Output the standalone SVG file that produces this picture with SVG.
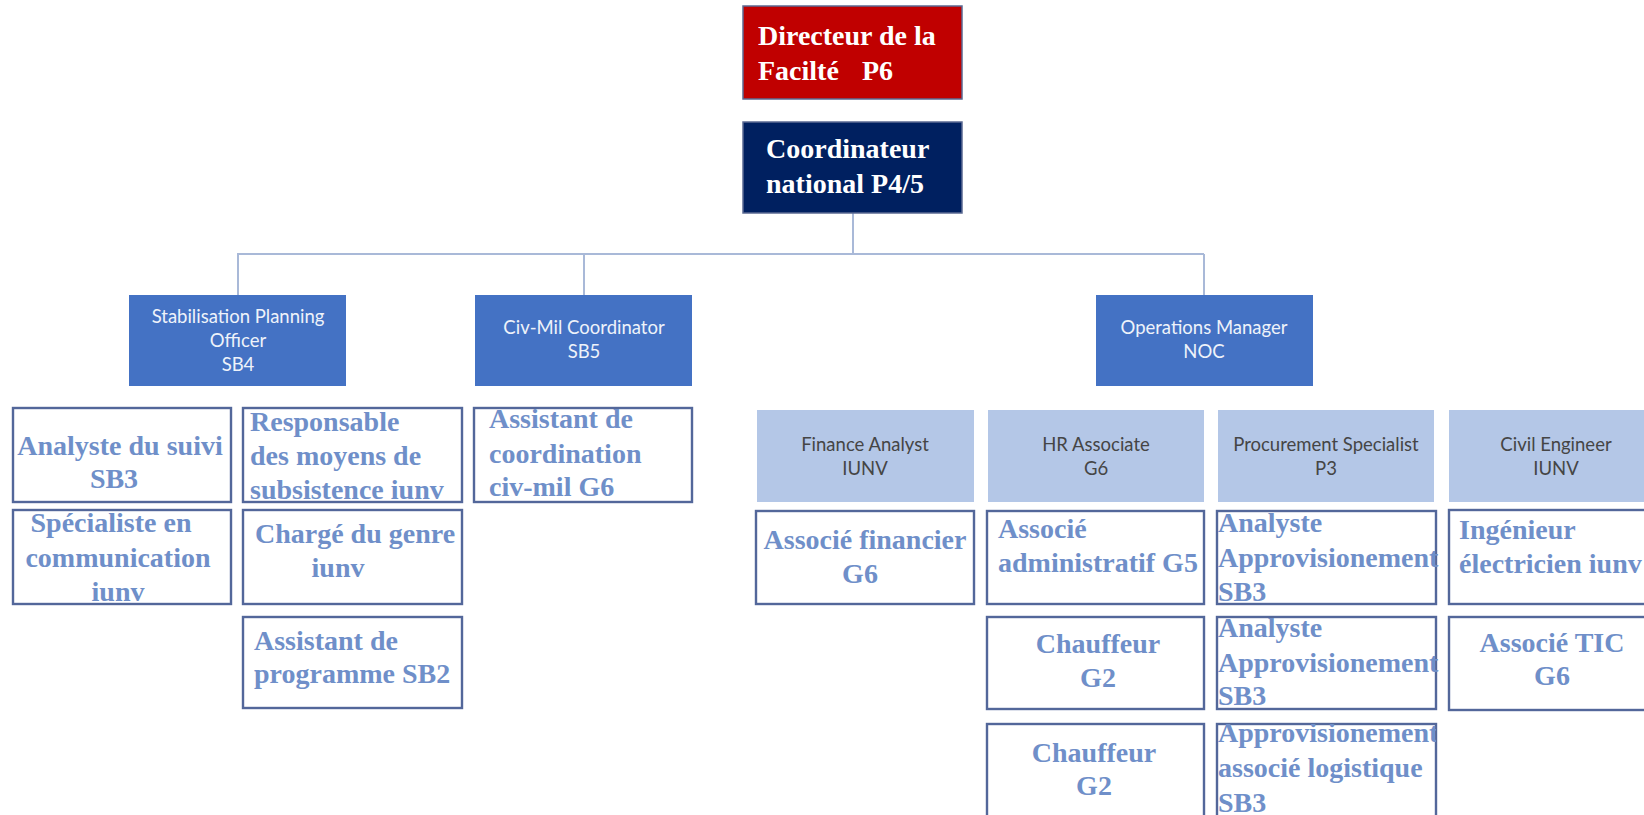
<svg xmlns="http://www.w3.org/2000/svg" width="1644" height="815" viewBox="0 0 1644 815">
<style>
.bg{fill:#ffffff}
.top{stroke:#5b6a93;stroke-width:1.5}
.blue{fill:#4472c4}
.light{fill:#b4c7e7}
.wbox{fill:#ffffff;stroke:#53679a;stroke-width:2.4}
.tt{font-family:"Liberation Serif",serif;font-weight:bold;font-size:28px;fill:#ffffff}
.bt{font-family:Lato,"Open Sans",sans-serif;font-size:18.5px;fill:#eef2fa;text-anchor:middle}
.lt{font-family:Lato,"Open Sans",sans-serif;font-size:18.5px;fill:#454545;text-anchor:middle}
.wt{font-family:"Liberation Serif",serif;font-weight:bold;font-size:28px;fill:#6f8fc9}
.c{text-anchor:middle}
.conn{stroke:#a9b9d8;stroke-width:2;fill:none}
</style>
<defs>
<clipPath id="cSpec"><rect x="13" y="510" width="218" height="93"/></clipPath>
<clipPath id="cResp"><rect x="243" y="408" width="219" height="93"/></clipPath>
<clipPath id="cAppro3"><rect x="1217" y="724" width="219" height="100"/></clipPath>
</defs>
<rect class="bg" x="0" y="0" width="1644" height="815"/>

<g id="connectors">
<line class="conn" x1="853" y1="213" x2="853" y2="254"/>
<line class="conn" x1="237" y1="254" x2="1204" y2="254"/>
<line class="conn" x1="238" y1="254" x2="238" y2="295"/>
<line class="conn" x1="584" y1="254" x2="584" y2="295"/>
<line class="conn" x1="1204" y1="254" x2="1204" y2="295"/>
</g>

<g id="n_directeur">
<rect class="top" x="743" y="6" width="219" height="93" fill="#c00000"/>
<text class="tt" x="758" y="45">Directeur de la</text>
<text class="tt" x="758" y="80">Facilté<tspan x="862">P6</tspan></text>
</g>
<g id="n_coordinateur">
<rect class="top" x="743" y="122" width="219" height="91" fill="#002060"/>
<text class="tt" x="766" y="158">Coordinateur</text>
<text class="tt" x="766" y="193">national P4/5</text>
</g>

<g id="n_stab">
<rect class="blue" x="129" y="295" width="217" height="91"/>
<text class="bt" x="238" y="323">Stabilisation Planning</text>
<text class="bt" x="238" y="347">Officer</text>
<text class="bt" x="238" y="371">SB4</text>
</g>
<g id="n_civmil">
<rect class="blue" x="475" y="295" width="217" height="91"/>
<text class="bt" x="584" y="334">Civ-Mil Coordinator</text>
<text class="bt" x="584" y="358">SB5</text>
</g>
<g id="n_ops">
<rect class="blue" x="1096" y="295" width="217" height="91"/>
<text class="bt" x="1204" y="334">Operations Manager</text>
<text class="bt" x="1204" y="358">NOC</text>
</g>

<g id="n_finance">
<rect class="light" x="757" y="410" width="217" height="92"/>
<text class="lt" x="865" y="451">Finance Analyst</text>
<text class="lt" x="865" y="475">IUNV</text>
</g>
<g id="n_hr">
<rect class="light" x="988" y="410" width="216" height="92"/>
<text class="lt" x="1096" y="451">HR Associate</text>
<text class="lt" x="1096" y="475">G6</text>
</g>
<g id="n_proc">
<rect class="light" x="1218" y="410" width="216" height="92"/>
<text class="lt" x="1326" y="451">Procurement Specialist</text>
<text class="lt" x="1326" y="475">P3</text>
</g>
<g id="n_civil">
<rect class="light" x="1449" y="410" width="215" height="92"/>
<text class="lt" x="1556" y="451">Civil Engineer</text>
<text class="lt" x="1556" y="475">IUNV</text>
</g>

<g id="n_analyste_suivi">
<rect class="wbox" x="13" y="408" width="218" height="94"/>
<text class="wt c" x="120" y="455">Analyste du suivi</text>
<text class="wt c" x="114" y="488">SB3</text>
</g>
<g id="n_specialiste">
<rect class="wbox" x="13" y="510" width="218" height="94"/>
<g clip-path="url(#cSpec)">
<text class="wt c" x="111" y="532">Spécialiste en</text>
<text class="wt c" x="118" y="567">communication</text>
<text class="wt c" x="118" y="601">iunv</text>
</g>
</g>
<g id="n_responsable">
<rect class="wbox" x="243" y="408" width="219" height="94"/>
<g clip-path="url(#cResp)">
<text class="wt" x="250" y="431">Responsable</text>
<text class="wt" x="250" y="465">des moyens de</text>
<text class="wt" x="250" y="499">subsistence iunv</text>
</g>
</g>
<g id="n_charge_genre">
<rect class="wbox" x="243" y="510" width="219" height="94"/>
<text class="wt c" x="355" y="543">Chargé du genre</text>
<text class="wt c" x="338" y="577">iunv</text>
</g>
<g id="n_assistant_prog">
<rect class="wbox" x="243" y="617" width="219" height="91"/>
<text class="wt" x="254" y="650">Assistant de</text>
<text class="wt" x="254" y="683">programme SB2</text>
</g>
<g id="n_assistant_coord">
<rect class="wbox" x="474" y="408" width="218" height="94"/>
<text class="wt" x="489" y="428">Assistant de</text>
<text class="wt" x="489" y="463">coordination</text>
<text class="wt" x="489" y="496">civ-mil G6</text>
</g>
<g id="n_associe_fin">
<rect class="wbox" x="756" y="511" width="218" height="93"/>
<text class="wt c" x="865" y="549">Associé financier</text>
<text class="wt c" x="860" y="583">G6</text>
</g>
<g id="n_associe_admin">
<rect class="wbox" x="987" y="511" width="217" height="93"/>
<text class="wt" x="998" y="538">Associé</text>
<text class="wt" x="998" y="572">administratif G5</text>
</g>
<g id="n_chauffeur1">
<rect class="wbox" x="987" y="617" width="217" height="92"/>
<text class="wt c" x="1098" y="653">Chauffeur</text>
<text class="wt c" x="1098" y="687">G2</text>
</g>
<g id="n_chauffeur2">
<rect class="wbox" x="987" y="724" width="217" height="100"/>
<text class="wt c" x="1094" y="762">Chauffeur</text>
<text class="wt c" x="1094" y="795">G2</text>
</g>
<g id="n_analyste_appro1">
<rect class="wbox" x="1217" y="511" width="219" height="93"/>
<text class="wt" x="1218" y="532">Analyste</text>
<text class="wt" x="1218" y="567">Approvisionement</text>
<text class="wt" x="1218" y="601">SB3</text>
</g>
<g id="n_analyste_appro2">
<rect class="wbox" x="1217" y="617" width="219" height="92"/>
<text class="wt" x="1218" y="637">Analyste</text>
<text class="wt" x="1218" y="672">Approvisionement</text>
<text class="wt" x="1218" y="705">SB3</text>
</g>
<g id="n_appro_logist">
<rect class="wbox" x="1217" y="724" width="219" height="100"/>
<g clip-path="url(#cAppro3)">
<text class="wt" x="1218" y="742">Approvisionement</text>
<text class="wt" x="1218" y="777">associé logistique</text>
<text class="wt" x="1218" y="812">SB3</text>
</g>
</g>
<g id="n_ingenieur">
<rect class="wbox" x="1449" y="510" width="220" height="94"/>
<text class="wt" x="1459" y="539">Ingénieur</text>
<text class="wt" x="1459" y="573">électricien iunv</text>
</g>
<g id="n_associe_tic">
<rect class="wbox" x="1449" y="617" width="220" height="93"/>
<text class="wt c" x="1552" y="652">Associé TIC</text>
<text class="wt c" x="1552" y="685">G6</text>
</g>
</svg>
